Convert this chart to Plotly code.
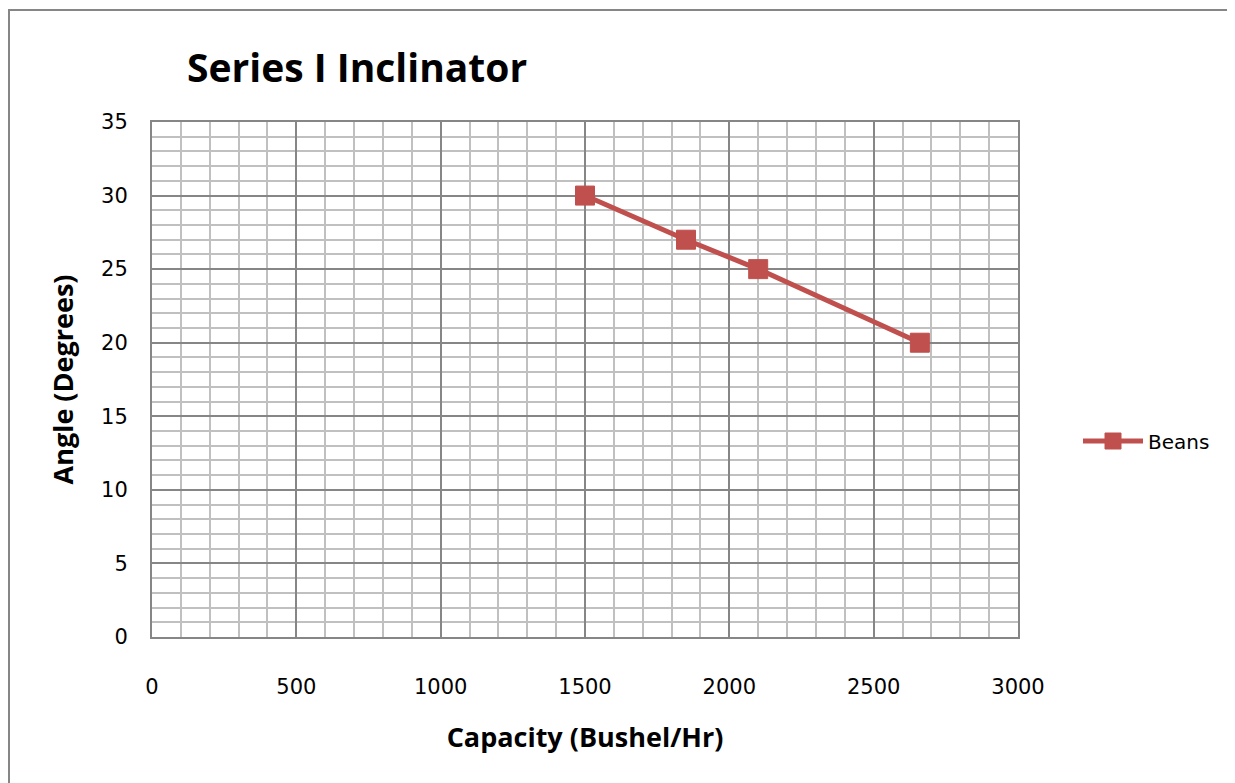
import plotly.graph_objects as go

capacity = [1500, 1850, 2100, 2660]
angle = [30, 27, 25, 20]
series_name = "Beans"
title_text = "Series I Inclinator"
x_title = "Capacity (Bushel/Hr)"
y_title = "Angle (Degrees)"

# page body adds an 8px offset; compensate
OFF = 8
W, H = 1235 - OFF, 783 - OFF
L, T = 152 - OFF, 122 - OFF
pw, ph = 866, 515
R, B = W - L - pw, H - T - ph

fig = go.Figure()
fig.add_trace(go.Scatter(
    x=capacity, y=angle, mode="lines+markers", name=series_name,
    line=dict(color="#C0504D", width=5),
    marker=dict(symbol="square", size=19, color="#C0504D",
                line=dict(color="#C0504D", width=1)),
))

axis_common = dict(
    showline=True, linecolor="#868686", linewidth=2, mirror=True,
    showgrid=True, gridcolor="#868686", gridwidth=1.5,
    zeroline=False,
    ticks="outside", tickcolor="rgba(0,0,0,0)",
    tickfont=dict(family="DejaVu Sans", size=21, color="#000000"),
)

title_font = dict(family="Open Sans", size=27, color="#000000", weight="bold")

fig.update_xaxes(
    range=[0, 3000], dtick=500, tick0=0, ticklen=30,
    minor=dict(dtick=100, showgrid=True, gridcolor="#C0C0C0", gridwidth=1.5),
    title=dict(text=x_title, font=title_font, standoff=30),
    **axis_common,
)
fig.update_yaxes(
    range=[0, 35], dtick=5, tick0=0, ticklen=18,
    minor=dict(dtick=1, showgrid=True, gridcolor="#C0C0C0", gridwidth=1.5),
    title=dict(text=y_title, font=title_font, standoff=20),
    **axis_common,
)

fig.update_layout(
    width=W, height=H,
    margin=dict(l=L, r=R, t=T, b=B, autoexpand=False),
    paper_bgcolor="white", plot_bgcolor="white",
    title=dict(text=title_text, x=(187 - OFF) / W, xanchor="left", y=1 - (68 - OFF) / H, yanchor="middle",
               font=dict(family="Open Sans", size=39, color="#000000", weight="bold")),
    showlegend=True,
    legend=dict(x=(1078 - 152) / pw, xanchor="left", y=(637 - 441) / ph, yanchor="middle",
                font=dict(family="DejaVu Sans", size=20, color="#000000"),
                bgcolor="rgba(0,0,0,0)", itemwidth=60),
)

fig.add_shape(type="rect", xref="paper", yref="paper",
              x0=(9 - 152) / pw, x1=(1234 - 152) / pw,
              y0=(637 - 800) / ph, y1=(637 - 10) / ph,
              line=dict(color="#868686", width=2), fillcolor="rgba(0,0,0,0)", layer="below")

fig.write_html("out.html")
